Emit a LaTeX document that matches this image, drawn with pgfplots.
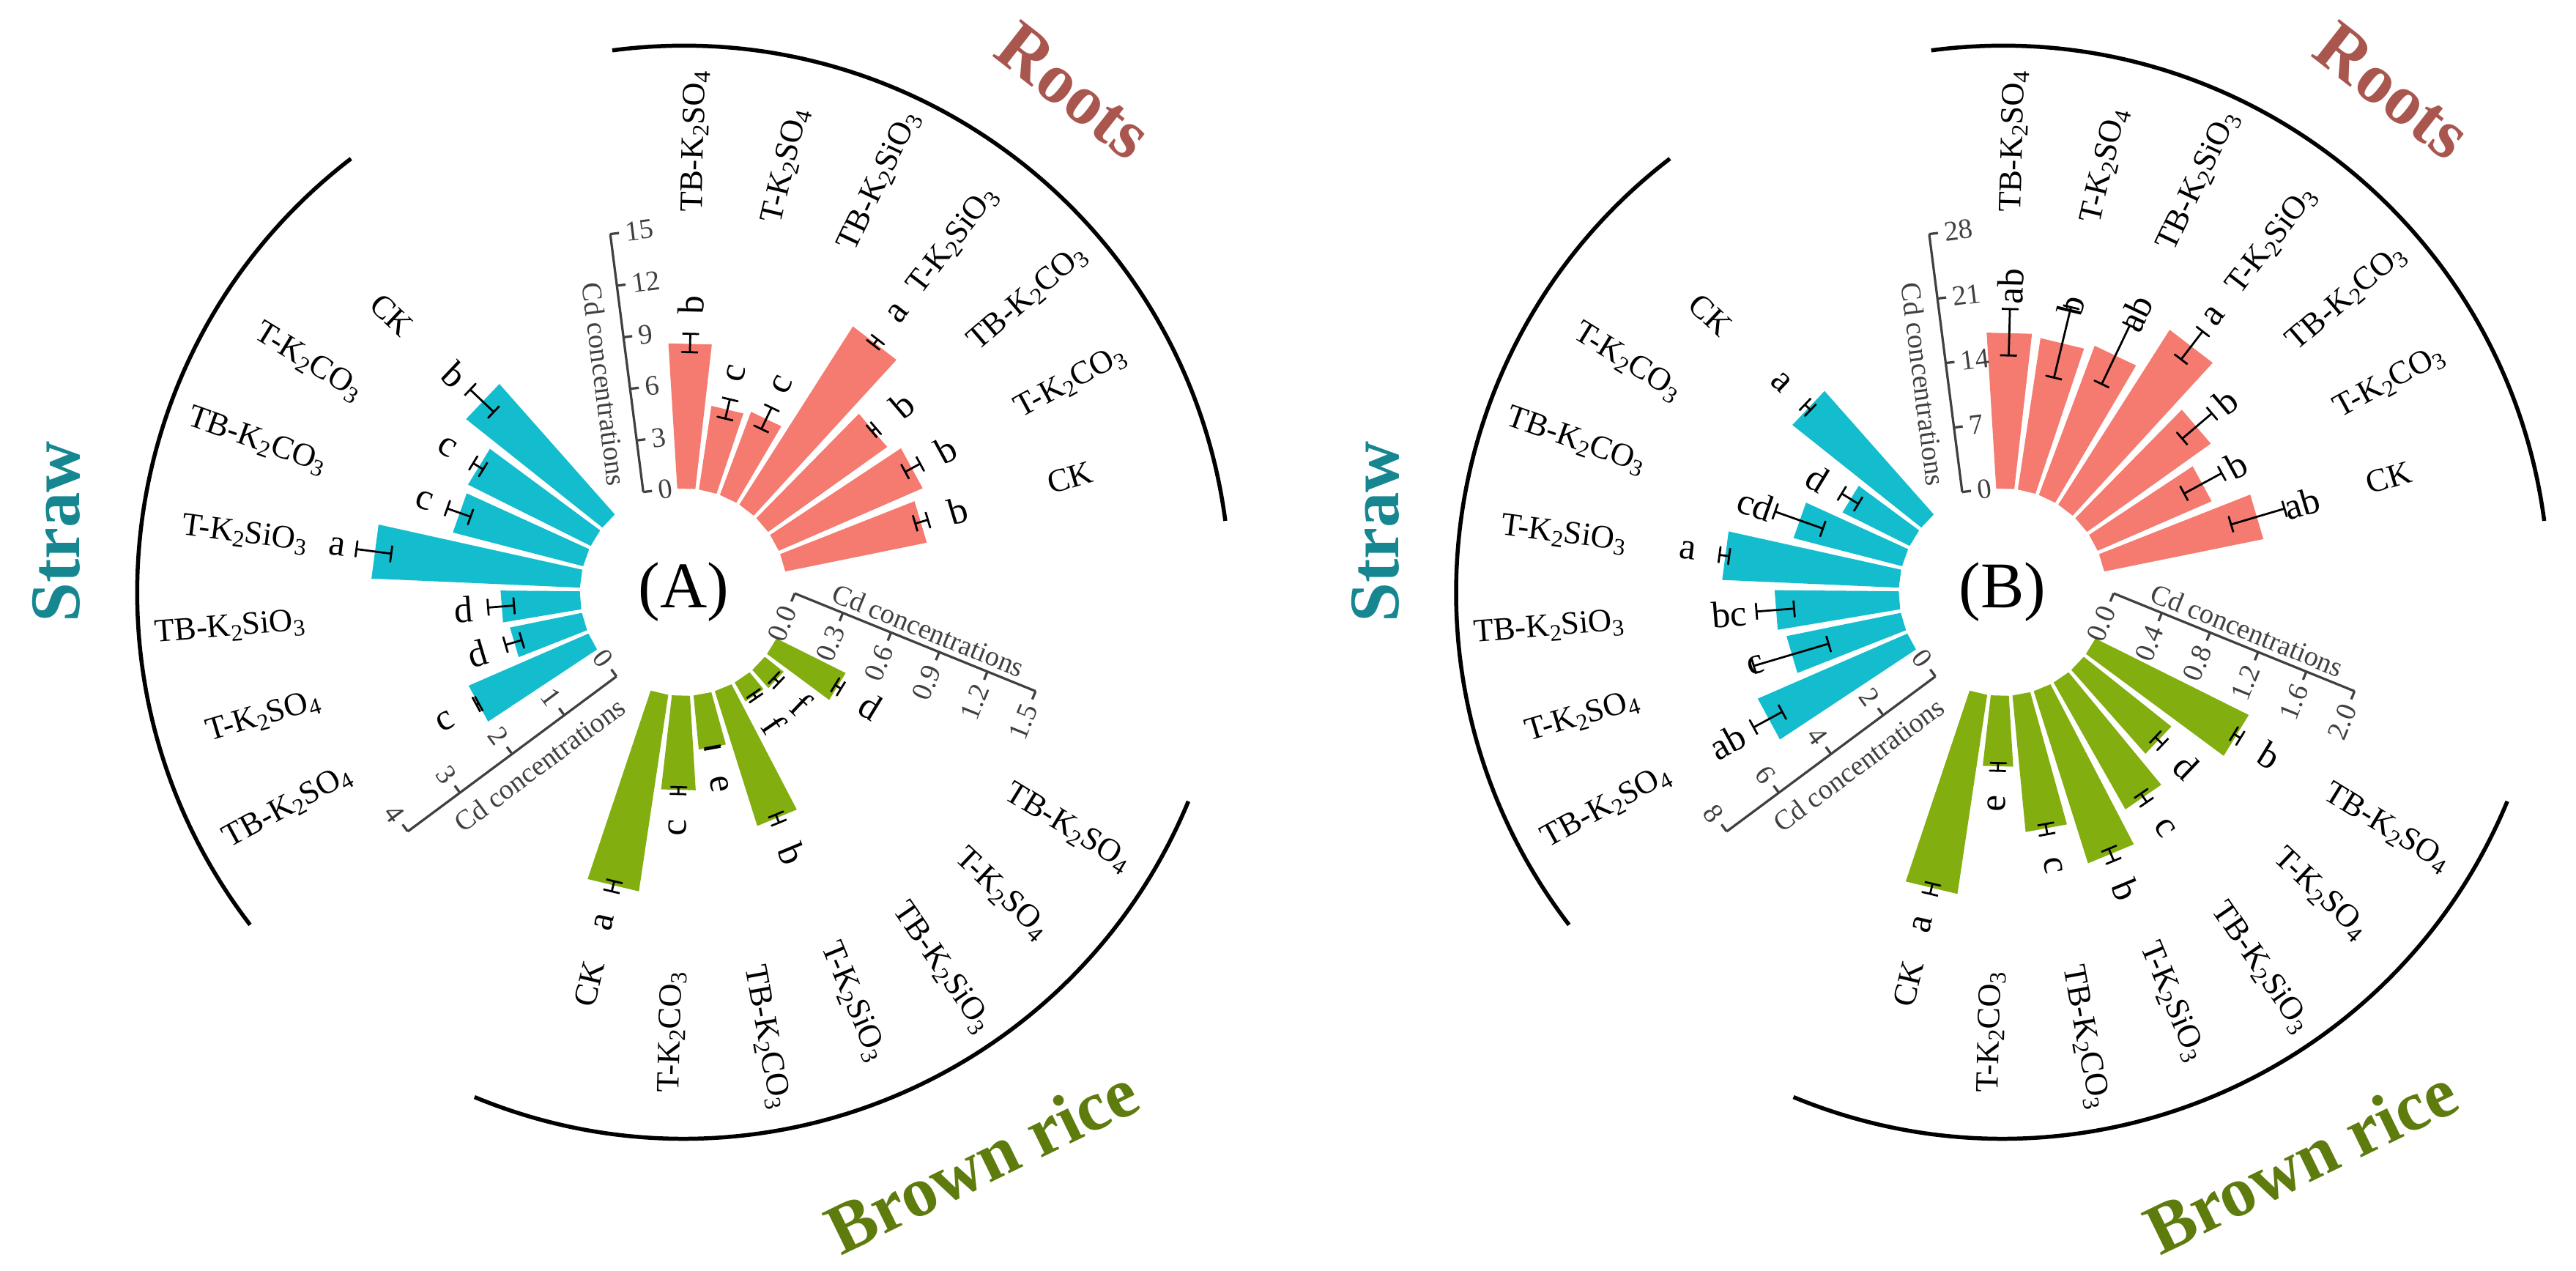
\documentclass[border=0pt]{standalone}
\usepackage{pgfplots}
\pgfplotsset{compat=1.18}
\usepackage{fontspec}
\setmainfont{Liberation Serif}

\definecolor{rootc}{HTML}{F57A6F}
\definecolor{strawc}{HTML}{13BDCE}
\definecolor{brownc}{HTML}{82AE0F}
\definecolor{roott}{HTML}{A9564F}
\definecolor{strawt}{HTML}{168791}
\definecolor{brownt}{HTML}{5E7B0E}
\definecolor{axgray}{HTML}{404040}

\newcommand\Rz{141.7}
\newcommand\hw{5}
\newcommand\capw{11}
\newcommand\cxA{933.3}
\newcommand\cyA{926.6}
\newcommand\cxB{2734}
\newcommand\cyB{926.6}
% px per unit (axis length 355 px)
\newcommand\kRA{23.667}
\newcommand\kSA{88.75}
\newcommand\kBA{236.67}
\newcommand\kRB{12.679}
\newcommand\kSB{44.375}
\newcommand\kBB{177.5}

\newcommand\labfont{\fontsize{8.9}{10}\selectfont}
\newcommand\letfont{\fontsize{10.2}{12}\selectfont}
\newcommand\axfont{\fontsize{7.7}{9}\selectfont}
\newcommand\ttlfont{\fontsize{19.4}{22}\selectfont\bfseries}
\newcommand\sbs[1]{\raisebox{-0.35ex}{\fontsize{6.4}{7}\selectfont #1}}

% wedge bar: cx cy angle value k colour
\newcommand\wbar[6]{%
\addplot[fill=#6, draw=none, forget plot] table[row sep=\\,
 x expr={#1+(\Rz+\thisrow{f}*#4*#5)*cos(#3+\thisrow{s}*\hw)},
 y expr={#2+(\Rz+\thisrow{f}*#4*#5)*sin(#3+\thisrow{s}*\hw)}]
 {s f\\ -1 0\\ -1 1\\ 1 1\\ 1 0\\};}
% radial error bar: cx cy angle value err k
\newcommand\werr[6]{%
\addplot[black, line width=0.55pt, line join=round, forget plot] table[row sep=\\,
 x expr={#1+(\Rz+(#4+\thisrow{p}*#5)*#6)*cos(#3)-\thisrow{t}*\capw*sin(#3)},
 y expr={#2+(\Rz+(#4+\thisrow{p}*#5)*#6)*sin(#3)+\thisrow{t}*\capw*cos(#3)}]
 {p t\\ -1 -1\\ -1 1\\ -1 0\\ 1 0\\ 1 -1\\ 1 1\\};}
\newcommand\bb[7]{\wbar{#1}{#2}{#3}{#4}{#6}{#7}\werr{#1}{#2}{#3}{#4}{#5}{#6}}

% labels (inside shifted scope, px units)
\newcommand\labW[2]{\node[font=\labfont, inner sep=0pt, rotate=#1, anchor=west] at (#1:518) {#2};}
\newcommand\labE[2]{\node[font=\labfont, inner sep=0pt, rotate=#1+180, anchor=east] at (#1:518) {#2};}
\newcommand\letW[4]{\node[font=\letfont, inner sep=0pt, rotate=#1, anchor=west] at (#1:{\Rz+#2*#3+38}) {#4};}
\newcommand\letE[4]{\node[font=\letfont, inner sep=0pt, rotate=#1+180, anchor=east] at (#1:{\Rz+#2*#3+38}) {#4};}

% group axis: shiftx shifty dir ticklist labelrot anchor titlepos titleoffset titlerot
\newcommand\gax[9]{%
\begin{scope}[shift={(#1,#2)}, rotate=#3]
 \draw[axgray, line width=0.65pt] (0,0) -- (355,0);
 \foreach \p/\l in {#4} {%
   \draw[axgray, line width=0.65pt] (\p,0) -- (\p,-12);
   \node[text=axgray, font=\axfont, inner sep=0pt, rotate=#5, anchor=#6] at (\p,-20) {\l};}
 \node[text=axgray, font=\axfont, inner sep=0pt, rotate=#9] at (#7,#8) {Cd concentrations};
\end{scope}}

\newcommand\catlabels{%
 % Roots
 \labW{88.5}{TB-K\sbs{2}SO\sbs{4}}
 \labW{76.5}{T-K\sbs{2}SO\sbs{4}}
 \labW{64.5}{TB-K\sbs{2}SiO\sbs{3}}
 \labW{52.5}{T-K\sbs{2}SiO\sbs{3}}
 \labW{40.5}{TB-K\sbs{2}CO\sbs{3}}
 \labW{28.5}{T-K\sbs{2}CO\sbs{3}}
 \labW{16.5}{CK}
 % Straw
 \labE{136.5}{CK}
 \labE{148.5}{T-K\sbs{2}CO\sbs{3}}
 \labE{160.5}{TB-K\sbs{2}CO\sbs{3}}
 \labE{172.5}{T-K\sbs{2}SiO\sbs{3}}
 \labE{184.5}{TB-K\sbs{2}SiO\sbs{3}}
 \labE{196.5}{T-K\sbs{2}SO\sbs{4}}
 \labE{208.5}{TB-K\sbs{2}SO\sbs{4}}
 % Brown rice
 \labW{-31.5}{TB-K\sbs{2}SO\sbs{4}}
 \labW{-43.5}{T-K\sbs{2}SO\sbs{4}}
 \labW{-55.5}{TB-K\sbs{2}SiO\sbs{3}}
 \labW{-67.5}{T-K\sbs{2}SiO\sbs{3}}
 \labW{-79.5}{TB-K\sbs{2}CO\sbs{3}}
 \labE{-91.5}{T-K\sbs{2}CO\sbs{3}}
 \labE{-103.5}{CK}
 % arcs
 \draw[line width=1.1pt] (7.5:746) arc[start angle=7.5, end angle=97.5, radius=746];
 \draw[line width=1.1pt] (127.5:746) arc[start angle=127.5, end angle=217.5, radius=746];
 \draw[line width=1.1pt] (247.5:746) arc[start angle=247.5, end angle=337.5, radius=746];
 % titles
 \node[font=\ttlfont, text=roott, rotate=-38] at (52.1:867) {Roots};
 \node[font=\ttlfont, text=strawt, rotate=90] at (174.5:860) {Straw};
 \node[font=\ttlfont, text=brownt, rotate=26] at (-62.3:876) {Brown rice};
}

\begin{document}
\begin{tikzpicture}
\path[use as bounding box] (0,0) rectangle (703.4pt,347pt);
\begin{axis}[x=0.2pt, y=0.2pt, xmin=0, xmax=3517, ymin=0, ymax=1735,
  hide axis, clip=false, enlargelimits=false, at={(0,0)}, anchor=south west]
\coordinate (OA) at (axis cs:933.3,926.6);
\coordinate (OB) at (axis cs:2734,926.6);
% ===== Panel A =====
% Roots
\bb{\cxA}{\cyA}{88.5}{8.39}{0.53}{\kRA}{rootc}
\bb{\cxA}{\cyA}{76.5}{4.88}{0.57}{\kRA}{rootc}
\bb{\cxA}{\cyA}{64.5}{5.12}{0.68}{\kRA}{rootc}
\bb{\cxA}{\cyA}{52.5}{12.19}{0.20}{\kRA}{rootc}
\bb{\cxA}{\cyA}{40.5}{8.44}{0.15}{\kRA}{rootc}
\bb{\cxA}{\cyA}{28.5}{9.05}{0.49}{\kRA}{rootc}
\bb{\cxA}{\cyA}{16.5}{8.33}{0.38}{\kRA}{rootc}
% Straw
\bb{\cxA}{\cyA}{136.5}{2.68}{0.25}{\kSA}{strawc}
\bb{\cxA}{\cyA}{148.5}{2.11}{0.09}{\kSA}{strawc}
\bb{\cxA}{\cyA}{160.5}{2.07}{0.19}{\kSA}{strawc}
\bb{\cxA}{\cyA}{172.5}{3.21}{0.27}{\kSA}{strawc}
\bb{\cxA}{\cyA}{184.5}{1.22}{0.20}{\kSA}{strawc}
\bb{\cxA}{\cyA}{196.5}{1.13}{0.13}{\kSA}{strawc}
\bb{\cxA}{\cyA}{208.5}{2.01}{0.02}{\kSA}{strawc}
% Brown rice
\bb{\cxA}{\cyA}{-31.5}{0.446}{0.02}{\kBA}{brownc}
\bb{\cxA}{\cyA}{-43.5}{0.139}{0.02}{\kBA}{brownc}
\bb{\cxA}{\cyA}{-55.5}{0.126}{0.015}{\kBA}{brownc}
\bb{\cxA}{\cyA}{-67.5}{0.815}{0.025}{\kBA}{brownc}
\bb{\cxA}{\cyA}{-79.5}{0.313}{0.004}{\kBA}{brownc}
\bb{\cxA}{\cyA}{-91.5}{0.546}{0.02}{\kBA}{brownc}
\bb{\cxA}{\cyA}{-103.5}{1.146}{0.03}{\kBA}{brownc}
% ===== Panel B =====
% Roots
\bb{\cxB}{\cyB}{88.5}{16.82}{2.5}{\kRB}{rootc}
\bb{\cxB}{\cyB}{76.5}{16.48}{3.9}{\kRB}{rootc}
\bb{\cxB}{\cyB}{64.5}{17.15}{3.5}{\kRB}{rootc}
\bb{\cxB}{\cyB}{52.5}{22.32}{1.9}{\kRB}{rootc}
\bb{\cxB}{\cyB}{40.5}{16.37}{2.1}{\kRB}{rootc}
\bb{\cxB}{\cyB}{28.5}{13.38}{2.3}{\kRB}{rootc}
\bb{\cxB}{\cyB}{16.5}{17.49}{3.0}{\kRB}{rootc}
% Straw
\bb{\cxB}{\cyB}{136.5}{5.07}{0.12}{\kSB}{strawc}
\bb{\cxB}{\cyB}{148.5}{2.31}{0.30}{\kSB}{strawc}
\bb{\cxB}{\cyB}{160.5}{3.45}{0.78}{\kSB}{strawc}
\bb{\cxB}{\cyB}{172.5}{5.44}{0.15}{\kSB}{strawc}
\bb{\cxB}{\cyB}{184.5}{3.82}{0.58}{\kSB}{strawc}
\bb{\cxB}{\cyB}{196.5}{3.59}{1.20}{\kSB}{strawc}
\bb{\cxB}{\cyB}{208.5}{5.02}{0.50}{\kSB}{strawc}
% Brown rice
\bb{\cxB}{\cyB}{-31.5}{1.318}{0.03}{\kBB}{brownc}
\bb{\cxB}{\cyB}{-43.5}{0.861}{0.04}{\kBB}{brownc}
\bb{\cxB}{\cyB}{-55.5}{1.121}{0.04}{\kBB}{brownc}
\bb{\cxB}{\cyB}{-67.5}{1.388}{0.05}{\kBB}{brownc}
\bb{\cxB}{\cyB}{-79.5}{1.055}{0.04}{\kBB}{brownc}
\bb{\cxB}{\cyB}{-91.5}{0.546}{0.03}{\kBB}{brownc}
\bb{\cxB}{\cyB}{-103.5}{1.548}{0.04}{\kBB}{brownc}
\end{axis}

% ===== Panel A decorations =====
\begin{scope}[shift={(OA)}, x=0.2pt, y=0.2pt]
 \catlabels
 \node[font=\fontsize{17.8}{20}\selectfont] at (0,0) {(A)};
 \gax{-55}{136.7}{97.3}{0/0,71/3,142/6,213/9,284/12,355/15}{7.3}{west}{152.7}{34}{-82.7}
 \gax{-91.6}{-115}{216.6}{0/0,88.75/1,177.5/2,266.25/3,355/4}{-53.4}{east}{156.2}{34}{36.6}
 \gax{151.7}{-1.6}{-22.1}{0/0.0,71/0.3,142/0.6,213/0.9,284/1.2,355/1.5}{67.9}{east}{188}{22}{-22.1}
 % letters
 \letW{88.5}{8.39}{\kRA}{b}
 \letW{76.5}{4.88}{\kRA}{c}
 \letW{64.5}{5.12}{\kRA}{c}
 \letW{52.5}{12.19}{\kRA}{a}
 \letW{40.5}{8.44}{\kRA}{b}
 \letW{28.5}{9.05}{\kRA}{b}
 \letW{16.5}{8.33}{\kRA}{b}
 \letE{136.5}{2.68}{\kSA}{b}
 \letE{148.5}{2.11}{\kSA}{c}
 \letE{160.5}{2.07}{\kSA}{c}
 \letE{172.5}{3.21}{\kSA}{a}
 \letE{184.5}{1.22}{\kSA}{d}
 \letE{196.5}{1.13}{\kSA}{d}
 \letE{208.5}{2.01}{\kSA}{c}
 \letW{-31.5}{0.446}{\kBA}{d}
 \letW{-43.5}{0.139}{\kBA}{f}
 \letW{-55.5}{0.126}{\kBA}{f}
 \letW{-67.5}{0.815}{\kBA}{b}
 \letW{-79.5}{0.313}{\kBA}{e}
 \letE{-91.5}{0.546}{\kBA}{c}
 \letE{-103.5}{1.146}{\kBA}{a}
\end{scope}

% ===== Panel B decorations =====
\begin{scope}[shift={(OB)}, x=0.2pt, y=0.2pt]
 \catlabels
 \node[font=\fontsize{17.8}{20}\selectfont] at (0,0) {(B)};
 \gax{-55}{136.7}{97.3}{0/0,88.75/7,177.5/14,266.25/21,355/28}{7.3}{west}{152.7}{34}{-82.7}
 \gax{-91.6}{-115}{216.6}{0/0,88.75/2,177.5/4,266.25/6,355/8}{-53.4}{east}{156.2}{34}{36.6}
 \gax{151.7}{-1.6}{-22.1}{0/0.0,71/0.4,142/0.8,213/1.2,284/1.6,355/2.0}{67.9}{east}{188}{22}{-22.1}
 % letters
 \letW{88.5}{16.82}{\kRB}{ab}
 \letW{76.5}{16.48}{\kRB}{b}
 \letW{64.5}{17.15}{\kRB}{ab}
 \letW{52.5}{22.32}{\kRB}{a}
 \letW{40.5}{16.37}{\kRB}{b}
 \letW{28.5}{13.38}{\kRB}{b}
 \letW{16.5}{17.49}{\kRB}{ab}
 \letE{136.5}{5.07}{\kSB}{a}
 \letE{148.5}{2.31}{\kSB}{d}
 \letE{160.5}{3.45}{\kSB}{cd}
 \letE{172.5}{5.44}{\kSB}{a}
 \letE{184.5}{3.82}{\kSB}{bc}
 \letE{196.5}{3.59}{\kSB}{c}
 \letE{208.5}{5.02}{\kSB}{ab}
 \letW{-31.5}{1.318}{\kBB}{b}
 \letW{-43.5}{0.861}{\kBB}{d}
 \letW{-55.5}{1.121}{\kBB}{c}
 \letW{-67.5}{1.388}{\kBB}{b}
 \letW{-79.5}{1.055}{\kBB}{c}
 \letE{-91.5}{0.546}{\kBB}{e}
 \letE{-103.5}{1.548}{\kBB}{a}
\end{scope}
\end{tikzpicture}
\end{document}
